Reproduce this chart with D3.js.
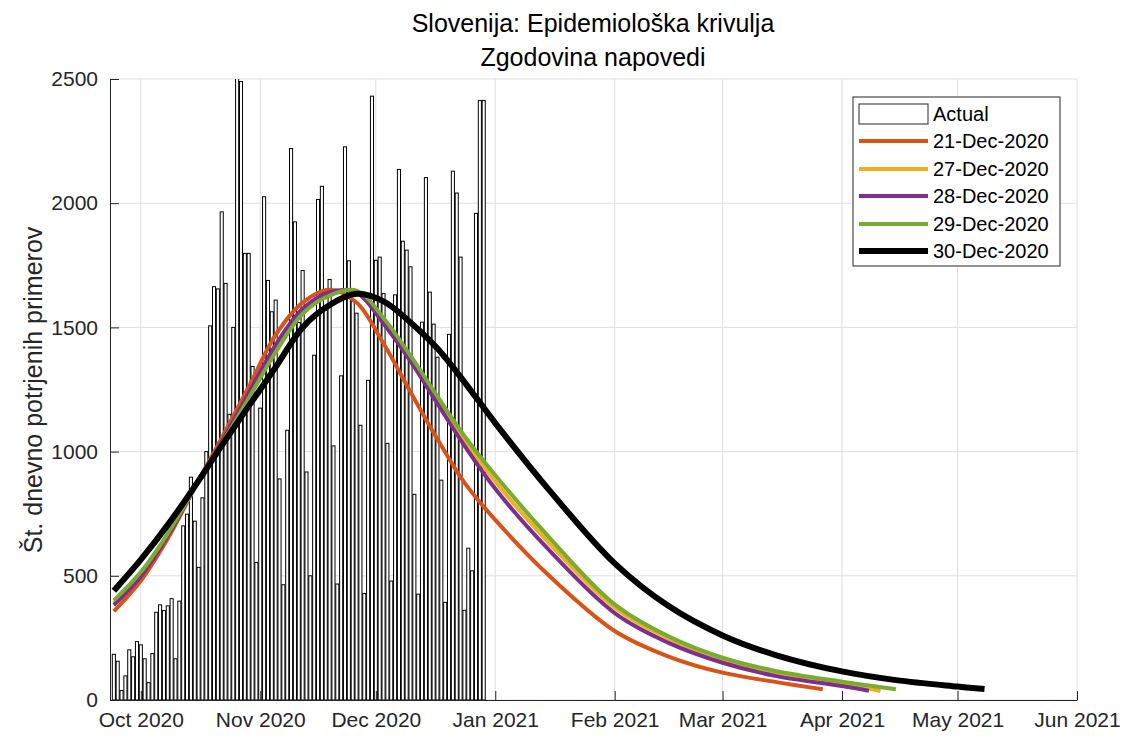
<!DOCTYPE html>
<html>
<head>
<meta charset="utf-8">
<script src="https://cdn.jsdelivr.net/npm/d3@7"></script>
<style>
body { margin: 0; background: #fff; }
svg { font-family: "Liberation Sans", Arial, sans-serif; }
</style>
</head>
<body>
<script>
// Dnevno potrjeni primeri (Actual), od 24. 9. 2020 naprej, en stolpec na dan
const barStart = "2020-09-24"
const actual = [184, 156, 38, 97, 202, 174, 235, 222, 166, 70,
    187, 353, 383, 360, 379, 408, 166, 398, 701, 748,
    897, 720, 534, 814, 1000, 1506, 1664, 1655, 1965, 1677,
    1150, 1500, 2560, 2490, 1798, 1798, 1343, 554, 1175, 2026,
    1689, 1563, 1610, 890, 464, 1086, 2220, 1925, 1520, 1729,
    918, 500, 1388, 2015, 2068, 1568, 1693, 1023, 467, 1305,
    2227, 1768, 1606, 1557, 1106, 429, 1287, 2431, 1770, 1783,
    1636, 1033, 479, 1631, 2136, 1847, 1811, 1744, 828, 426,
    1521, 2103, 1642, 1513, 1380, 885, 393, 1472, 2129, 2041,
    1783, 361, 611, 520, 1959, 2413, 2414]

// Napovedi - vrednosti odčitane na izbranih datumih
const curveDates = ["2020-09-24", "2020-10-01", "2020-10-08", "2020-10-15", "2020-10-22",
    "2020-10-29", "2020-11-05", "2020-11-12", "2020-11-19", "2020-11-26",
    "2020-12-03", "2020-12-10", "2020-12-17", "2020-12-24", "2021-01-01",
    "2021-01-15", "2021-02-01", "2021-02-15", "2021-03-01", "2021-03-15",
    "2021-04-01", "2021-04-15", "2021-05-01"]
const fc21 = [357, 480, 650, 855, 1055, 1260, 1470, 1600, 1652, 1600, 1435, 1240, 1050, 875, 725, 500, 278, 175, 110, 72, null, null, null]
const fc27 = [390, 505, 665, 855, 1035, 1225, 1415, 1565, 1635, 1645, 1525, 1375, 1208, 1045, 880, 632, 372, 248, 163, 108, 67, null, null]
const fc28 = [382, 498, 660, 855, 1040, 1235, 1430, 1575, 1642, 1640, 1515, 1364, 1193, 1024, 850, 603, 350, 230, 150, 96, 56, null, null]
const fc29 = [401, 515, 670, 855, 1030, 1215, 1400, 1555, 1628, 1648, 1538, 1386, 1222, 1063, 905, 655, 385, 256, 170, 116, 74, null, null]
const fc30 = [440, 565, 705, 860, 1024, 1183, 1340, 1500, 1590, 1635, 1605, 1520, 1415, 1280, 1115, 845, 550, 378, 260, 180, 115, 80, 54]
const fcEndDates = ["2021-03-27", "2021-04-11", "2021-04-08", "2021-04-15", "2021-05-08"]
const fcEndValues = [43, 36, 37, 43, 44]

const seriesNames = ["21-Dec-2020", "27-Dec-2020", "28-Dec-2020", "29-Dec-2020", "30-Dec-2020"]
const seriesColors = ["#D95319", "#EDB120", "#7E2F8E", "#77AC30", "#000000"]
const yTicks = [0, 500, 1000, 1500, 2000, 2500]

const parse = d3.utcParse("%Y-%m-%d")

const svg = d3.select("body")
    .append("svg")
    .attr("width", 1125)
    .attr("height", 738)

const x = d3.scaleUtc()
    .domain([parse("2020-09-23"), parse("2021-06-01")])
    .range([110, 1077])
const y = d3.scaleLinear()
    .domain([0, 2500])
    .range([700, 79])

const months = d3.utcMonth.range(parse("2020-10-01"), parse("2021-06-02"))

// mreža
svg.append("g").selectAll("line")
    .data(months)
    .enter()
    .append("line")
    .attr("x1", d => x(d)).attr("x2", d => x(d))
    .attr("y1", 79).attr("y2", 700)
    .attr("stroke", "#dfdfdf")
svg.append("g").selectAll("line")
    .data(yTicks)
    .enter()
    .append("line")
    .attr("x1", 110).attr("x2", 1077)
    .attr("y1", d => y(d)).attr("y2", d => y(d))
    .attr("stroke", "#dfdfdf")

svg.append("clipPath")
    .attr("id", "plotclip")
    .append("rect")
    .attr("x", 110).attr("y", 79)
    .attr("width", 967).attr("height", 621)

// stolpci
const start = parse(barStart)
const bars = actual.map((v, i) => ({ date: d3.utcDay.offset(start, i), v: v }))
const dayW = x(d3.utcDay.offset(start, 1)) - x(start)
const bw = dayW * 0.8

svg.append("g")
    .attr("clip-path", "url(#plotclip)")
    .selectAll("rect")
    .data(bars)
    .enter()
    .append("rect")
    .attr("x", d => x(d.date) - bw / 2)
    .attr("y", d => y(d.v))
    .attr("width", bw)
    .attr("height", d => y(0) - y(d.v))
    .attr("fill", "#fff")
    .attr("stroke", "#000")
    .attr("stroke-width", 1)

// krivulje napovedi
const forecasts = [fc21, fc27, fc28, fc29, fc30]
const line = d3.line()
    .x(d => x(d.date))
    .y(d => y(d.v))
    .curve(d3.curveCatmullRom.alpha(0.5))

forecasts.forEach((vals, k) => {
    const pts = []
    vals.forEach((v, i) => {
        if (v != null) pts.push({ date: parse(curveDates[i]), v: v })
    })
    pts.push({ date: parse(fcEndDates[k]), v: fcEndValues[k] })
    svg.append("path")
        .datum(pts)
        .attr("d", line)
        .attr("fill", "none")
        .attr("stroke", seriesColors[k])
        .attr("stroke-width", k == 4 ? 6 : 4)
})

// osi
svg.append("g")
    .attr("transform", "translate(0,700)")
    .call(d3.axisBottom(x)
        .tickValues(months)
        .tickFormat(d3.utcFormat("%b %Y"))
        .tickSizeInner(-9)
        .tickSizeOuter(0)
        .tickPadding(12))
svg.append("g")
    .attr("transform", "translate(110,0)")
    .call(d3.axisLeft(y)
        .tickValues(yTicks)
        .tickFormat(d3.format("d"))
        .tickSizeInner(-9)
        .tickSizeOuter(0)
        .tickPadding(12))

svg.selectAll(".domain, .tick line").attr("stroke", "#262626")
svg.selectAll(".tick text")
    .attr("fill", "#262626")
    .style("font-size", "21px")
    .style("font-family", "'Liberation Sans', Arial, sans-serif")

// naslov
svg.append("text")
    .attr("x", 593).attr("y", 32)
    .attr("text-anchor", "middle")
    .style("font-size", "25px")
    .text("Slovenija: Epidemiološka krivulja")
svg.append("text")
    .attr("x", 593).attr("y", 66)
    .attr("text-anchor", "middle")
    .style("font-size", "25px")
    .text("Zgodovina napovedi")

svg.append("text")
    .attr("transform", "translate(42,390) rotate(-90)")
    .attr("text-anchor", "middle")
    .attr("fill", "#262626")
    .style("font-size", "25px")
    .text("Št. dnevno potrjenih primerov")

// legenda
const leg = svg.append("g")
leg.append("rect")
    .attr("x", 853).attr("y", 97)
    .attr("width", 207).attr("height", 169)
    .attr("fill", "#fff")
    .attr("stroke", "#262626")
leg.append("rect")
    .attr("x", 859).attr("y", 104)
    .attr("width", 69).attr("height", 20)
    .attr("fill", "#fff")
    .attr("stroke", "#262626")
leg.append("text")
    .attr("x", 933).attr("y", 114)
    .attr("dy", "0.35em")
    .style("font-size", "20px")
    .text("Actual")

const rowY = [141, 169, 196, 224, 251]
seriesNames.forEach((name, k) => {
    leg.append("line")
        .attr("x1", 859).attr("x2", 928)
        .attr("y1", rowY[k]).attr("y2", rowY[k])
        .attr("stroke", seriesColors[k])
        .attr("stroke-width", k == 4 ? 6 : 4)
    leg.append("text")
        .attr("x", 933).attr("y", rowY[k])
        .attr("dy", "0.35em")
        .style("font-size", "20px")
        .text(name)
})
</script>
</body>
</html>
